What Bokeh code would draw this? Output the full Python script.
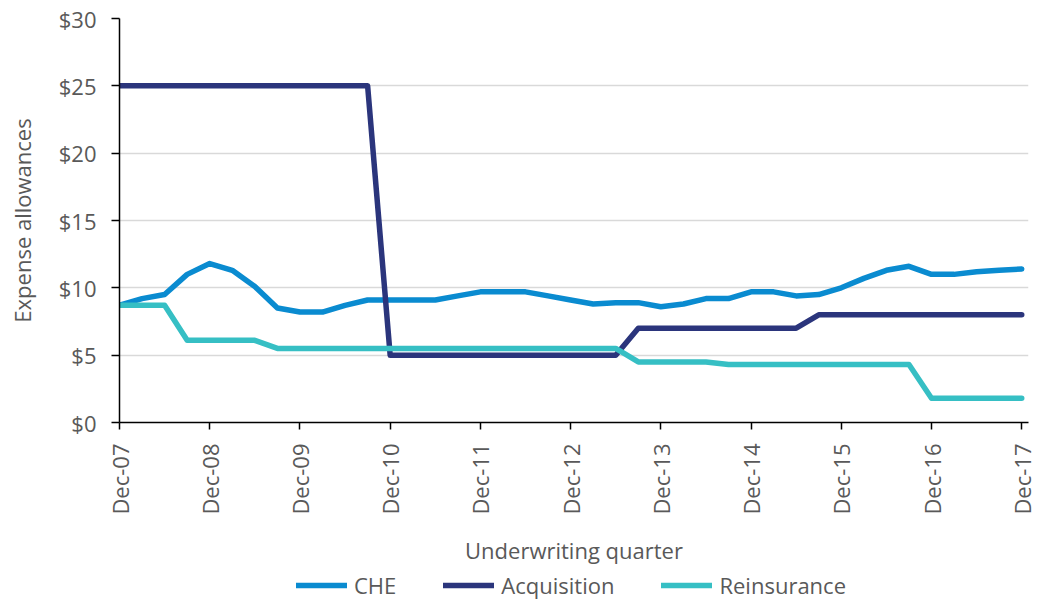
import math
from bokeh.plotting import figure
from bokeh.layouts import column
from bokeh.models import (ColumnDataSource, FixedTicker, NumeralTickFormatter,
                          Legend, LegendItem, Range1d)
from bokeh.embed import file_html
from bokeh.resources import INLINE

# Underwriting quarters, Dec-07 .. Dec-17 (quarter index 0..40)
quarter_index = list(range(41))
tick_positions = [0, 4, 8, 12, 16, 20, 24, 28, 32, 36, 40]
tick_labels = ["Dec-07", "Dec-08", "Dec-09", "Dec-10", "Dec-11", "Dec-12",
               "Dec-13", "Dec-14", "Dec-15", "Dec-16", "Dec-17"]

# Expense allowances ($) per quarter
che = [8.7, 9.2, 9.5, 11.0, 11.8, 11.3, 10.1, 8.5, 8.2, 8.2,
       8.7, 9.1, 9.1, 9.1, 9.1, 9.4, 9.7, 9.7, 9.7, 9.4,
       9.1, 8.8, 8.9, 8.9, 8.6, 8.8, 9.2, 9.2, 9.7, 9.7,
       9.4, 9.5, 10.0, 10.7, 11.3, 11.6, 11.0, 11.0, 11.2, 11.3,
       11.4]
acquisition = [25, 25, 25, 25, 25, 25, 25, 25, 25, 25,
               25, 25, 5, 5, 5, 5, 5, 5, 5, 5,
               5, 5, 5, 7, 7, 7, 7, 7, 7, 7,
               7, 8, 8, 8, 8, 8, 8, 8, 8, 8,
               8]
reinsurance = [8.7, 8.7, 8.7, 6.1, 6.1, 6.1, 6.1, 5.5, 5.5, 5.5,
               5.5, 5.5, 5.5, 5.5, 5.5, 5.5, 5.5, 5.5, 5.5, 5.5,
               5.5, 5.5, 5.5, 4.5, 4.5, 4.5, 4.5, 4.3, 4.3, 4.3,
               4.3, 4.3, 4.3, 4.3, 4.3, 4.3, 1.8, 1.8, 1.8, 1.8,
               1.8]

series_names = ["CHE", "Acquisition", "Reinsurance"]
series_cols = ["che", "acq", "re"]
series_colors = ["#0A8BD0", "#2B357C", "#36BFC4"]

FONT = "Open Sans"
TEXT = "#595959"
SIZE = "22px"
LINE_W = 5.5

source = ColumnDataSource(dict(q=quarter_index, che=che, acq=acquisition, re=reinsurance))

p = figure(width=1038, height=568, output_backend="svg", toolbar_location=None,
           x_range=Range1d(0, 40.3), y_range=Range1d(0, 30),
           min_border_left=119, min_border_right=10, min_border_top=18,
           min_border_bottom=146)
p.outline_line_color = None
p.background_fill_color = "white"
p.border_fill_color = "white"

for col, color in zip(series_cols, series_colors):
    p.line("q", col, source=source, line_color=color, line_width=LINE_W,
           line_join="round", line_cap="round")

# grid
p.xgrid.visible = False
p.ygrid.grid_line_color = "#D9D9D9"
p.ygrid.grid_line_width = 1.5
p.ygrid.ticker = FixedTicker(ticks=[0, 5, 10, 15, 20, 25, 30])

# x axis
xa = p.xaxis[0]
xa.ticker = FixedTicker(ticks=tick_positions)
xa.major_label_overrides = {pos: lab for pos, lab in zip(tick_positions, tick_labels)}
xa.major_label_orientation = math.pi / 2
xa.axis_label = "Underwriting quarter"
xa.axis_line_color = "black"
xa.axis_line_width = 1.5
xa.major_tick_line_color = "black"
xa.major_tick_line_width = 1.5
xa.major_tick_out = 7
xa.major_tick_in = 0
xa.minor_tick_line_color = None
xa.major_label_standoff = 14
xa.axis_label_standoff = 17

# y axis
ya = p.yaxis[0]
ya.ticker = FixedTicker(ticks=[0, 5, 10, 15, 20, 25, 30])
ya.formatter = NumeralTickFormatter(format="$0")
ya.axis_label = "Expense allowances"
ya.axis_line_color = "black"
ya.axis_line_width = 1.5
ya.major_tick_line_color = "black"
ya.major_tick_line_width = 1.5
ya.major_tick_out = 8
ya.major_tick_in = 0
ya.minor_tick_line_color = None
ya.major_label_standoff = 15
ya.axis_label_standoff = 19

for ax in (xa, ya):
    ax.major_label_text_font = FONT
    ax.major_label_text_font_size = SIZE
    ax.major_label_text_color = TEXT
    ax.axis_label_text_font = FONT
    ax.axis_label_text_font_size = SIZE
    ax.axis_label_text_color = TEXT
    ax.axis_label_text_font_style = "normal"

# legend strip under the chart (its frame lines up with the chart frame)
lg = figure(width=1038, height=32, output_backend="svg", toolbar_location=None,
            x_range=Range1d(0, 1), y_range=Range1d(0, 1),
            min_border=0, outline_line_color=None)
lg.axis.visible = False
lg.grid.visible = False
lg.border_fill_color = "white"
nan = float("nan")
key_renderers = [lg.line(x=[nan], y=[nan], line_color=c, line_width=LINE_W, line_cap="round")
                 for c in series_colors]
legend = Legend(items=[LegendItem(label=n, renderers=[r]) for n, r in zip(series_names, key_renderers)],
                orientation="horizontal", location=(177, 0),
                glyph_width=51, glyph_height=26, label_standoff=7, spacing=47,
                padding=0, margin=0, border_line_color=None,
                background_fill_alpha=0,
                label_text_font=FONT, label_text_font_size=SIZE,
                label_text_color=TEXT)
lg.add_layout(legend, "center")

layout = column(p, lg, spacing=0)
open("out.html", "w").write(file_html(layout, INLINE))
